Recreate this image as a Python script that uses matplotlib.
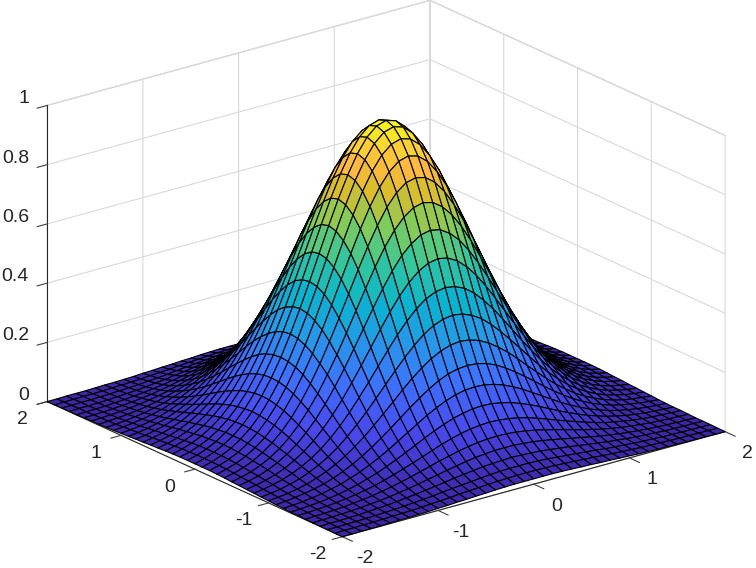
import numpy as np
import matplotlib
matplotlib.use("Agg")
import matplotlib.pyplot as plt
from matplotlib.colors import LinearSegmentedColormap
from mpl_toolkits.mplot3d import proj3d

plt.rcParams["font.family"] = ["Liberation Sans", "DejaVu Sans"]

# height of the surface, centre (row 0, col 0) out to the corner, one quarter only:
# the picture is symmetric in x and y so the rest is mirrored below
quarter_z = [
    [1.000, .990, .961, .914, .852, .779, .698, .613, .527, .445, .368, .298, .237, .185, .141, .105, .077, .056, .039, .027, .018],
    [.990, .980, .951, .905, .844, .771, .691, .607, .522, .440, .364, .295, .235, .183, .139, .104, .077, .055, .039, .027, .018],
    [.961, .951, .923, .878, .819, .748, .670, .589, .507, .427, .353, .287, .228, .177, .135, .101, .074, .053, .038, .026, .018],
    [.914, .905, .878, .835, .779, .712, .638, .560, .482, .407, .336, .273, .217, .169, .129, .096, .071, .051, .036, .025, .017],
    [.852, .844, .819, .779, .726, .664, .595, .522, .449, .379, .313, .254, .202, .157, .120, .090, .066, .047, .033, .023, .016],
    [.779, .771, .748, .712, .664, .607, .543, .477, .411, .346, .287, .232, .185, .144, .110, .082, .060, .043, .030, .021, .014],
    [.698, .691, .670, .638, .595, .543, .487, .427, .368, .310, .257, .208, .165, .129, .098, .074, .054, .039, .027, .019, .013],
    [.613, .607, .589, .560, .522, .477, .427, .375, .323, .273, .225, .183, .145, .113, .086, .065, .047, .034, .024, .017, .011],
    [.527, .522, .507, .482, .449, .411, .368, .323, .278, .235, .194, .157, .125, .097, .074, .056, .041, .029, .021, .014, .010],
    [.445, .440, .427, .407, .379, .346, .310, .273, .235, .198, .164, .133, .105, .082, .063, .047, .034, .025, .017, .012, .008],
    [.368, .364, .353, .336, .313, .287, .257, .225, .194, .164, .135, .110, .087, .068, .052, .039, .028, .020, .014, .010, .007],
    [.298, .295, .287, .273, .254, .232, .208, .183, .157, .133, .110, .089, .071, .055, .042, .031, .023, .017, .012, .008, .005],
    [.237, .235, .228, .217, .202, .185, .165, .145, .125, .105, .087, .071, .056, .044, .033, .025, .018, .013, .009, .006, .004],
    [.185, .183, .177, .169, .157, .144, .129, .113, .097, .082, .068, .055, .044, .034, .026, .019, .014, .010, .007, .005, .003],
    [.141, .139, .135, .129, .120, .110, .098, .086, .074, .063, .052, .042, .033, .026, .020, .015, .011, .008, .006, .004, .003],
    [.105, .104, .101, .096, .090, .082, .074, .065, .056, .047, .039, .031, .025, .019, .015, .011, .008, .006, .004, .003, .002],
    [.077, .077, .074, .071, .066, .060, .054, .047, .041, .034, .028, .023, .018, .014, .011, .008, .006, .004, .003, .002, .001],
    [.056, .055, .053, .051, .047, .043, .039, .034, .029, .025, .020, .017, .013, .010, .008, .006, .004, .003, .002, .002, .001],
    [.039, .039, .038, .036, .033, .030, .027, .024, .021, .017, .014, .012, .009, .007, .006, .004, .003, .002, .002, .001, .001],
    [.027, .027, .026, .025, .023, .021, .019, .017, .014, .012, .010, .008, .006, .005, .004, .003, .002, .002, .001, .001, .000],
    [.018, .018, .018, .017, .016, .014, .013, .011, .010, .008, .007, .005, .004, .003, .003, .002, .001, .001, .001, .000, .000],
]
grid_xy = [0, .1, .2, .3, .4, .5, .6, .7, .8, .9, 1, 1.1, 1.2, 1.3, 1.4, 1.5, 1.6, 1.7, 1.8, 1.9, 2]
xy_ticks = [-2, -1, 0, 1, 2]
xy_labels = ["-2", "-1", "0", "1", "2"]
z_ticks = [0, 0.2, 0.4, 0.6, 0.8, 1]
z_labels = ["0", "0.2", "0.4", "0.6", "0.8", "1"]
# parula with the orange stop it has just below the yellow end
parula = [(0, "#3e26a8"), (.111, "#4747eb"), (.222, "#3e6fff"), (.333, "#2796eb"), (.444, "#08b5d0"),
          (.556, "#31c69f"), (.667, "#81cc59"), (.778, "#dcbd29"), (.85, "#feb93d"), (.92, "#fad52e"), (1, "#f9fb14")]

q = np.array(quarter_z)
right = np.hstack([q[:, :0:-1], q])
Z = np.vstack([right[:0:-1], right])
g = np.array(grid_xy)
g = np.concatenate([-g[:0:-1], g])
X, Y = np.meshgrid(g, g)

cmap = LinearSegmentedColormap.from_list("parula", parula)
colors = cmap((Z - Z.min()) / (Z.max() - Z.min()))

fig = plt.figure(figsize=(7.56, 5.68), dpi=100)
ax = fig.add_axes([0.5 / 756, 7.8 / 568, 1, 1], projection="3d", proj_type="ortho")
ax.view_init(elev=20.76, azim=-127.75)
ax.set_box_aspect((484, 482, 316.7), zoom=1.287)

surf = ax.plot_surface(X, Y, Z, facecolors=colors, rstride=1, cstride=1, shade=False,
                       edgecolor="black", linewidth=0.8, antialiased=True)
surf.set_clip_on(False)

ax.set_xticks(xy_ticks)
ax.set_yticks(xy_ticks)
ax.set_zticks(z_ticks)

for axis in [ax.xaxis, ax.yaxis, ax.zaxis]:
    axis.set_pane_color((1, 1, 1, 1))
    axis.pane.set_edgecolor("#d9d9d9")
    axis.line.set_color("#262626")
    axis.line.set_linewidth(0.8)
    axis._axinfo["grid"].update(color="#d9d9d9", linewidth=0.8)
    axis._axinfo["tick"].update(inward_factor=0, outward_factor=0)
    axis.set_ticklabels([])

# mplot3d would not place the ticks and labels like the reference, so draw them ourselves
tick_style = dict(color="#404040", linewidth=0.8, clip_on=False)
for t in xy_ticks:
    ax.plot([t, t], [-2, -2.135], [0, 0], **tick_style)
    ax.plot([-2, -2.105], [t, t], [0, 0], **tick_style)
for t in z_ticks:
    ax.plot([-2, -2.105], [2, 2], [t, t], **tick_style)

ax.set_xlim(-2, 2, view_margin=0)
ax.set_ylim(-2, 2, view_margin=0)
ax.set_zlim(0, 1, view_margin=0)


def label_at(x, y, z, text, ha):
    px, py, _ = proj3d.proj_transform(x, y, z, ax.get_proj())
    ax.text2D(px, py, text, transform=ax.transData, fontsize=14, color="#262626", ha=ha, va="center")


for t, lab in zip(xy_ticks, xy_labels):
    label_at(t, -2.305, -0.0395, lab, "center")
    label_at(-2.261, t, -0.0375, lab, "center")
for t, lab in zip(z_ticks, z_labels):
    label_at(-2.191, 2, t + 0.039, lab, "right")

fig.savefig("out.png", dpi=100)
